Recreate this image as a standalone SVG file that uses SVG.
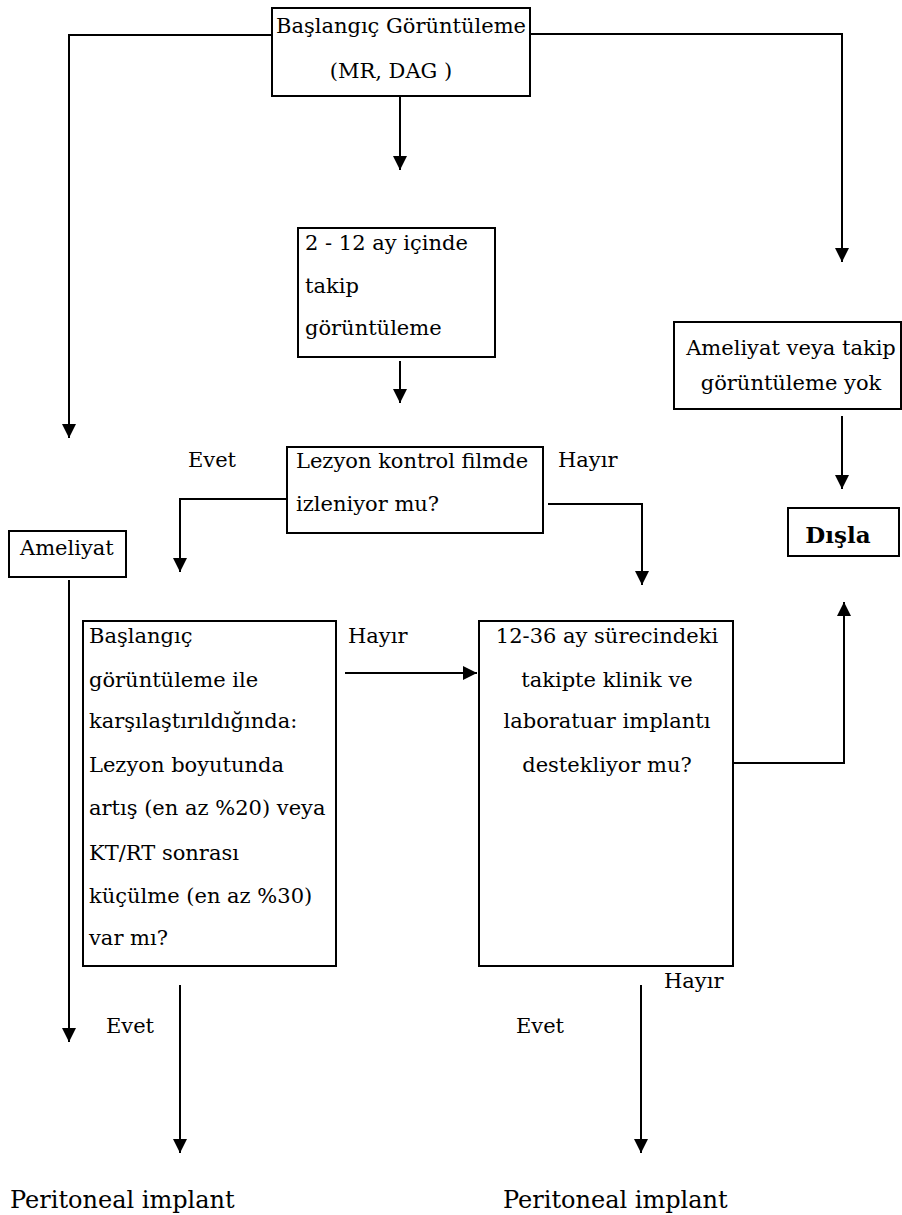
<svg xmlns="http://www.w3.org/2000/svg" width="902" height="1215" viewBox="0 0 902 1215">
<style>
text{font-family:"DejaVu Serif","Liberation Serif",serif;font-size:21px;fill:#000}
.c{text-anchor:middle}
.big{font-size:24px}
.b{font-weight:bold;font-size:23px}
.box{fill:#fff;stroke:#000;stroke-width:2}
.ln{fill:none;stroke:#000;stroke-width:2}
</style>
<defs>
<marker id="ah" markerUnits="userSpaceOnUse" markerWidth="14" markerHeight="16" viewBox="0 0 14 16" refX="14" refY="7" orient="auto">
<path d="M0,0 L14,7 L0,14 Z" fill="#000"/>
</marker>
</defs>
<g id="connectors">
<polyline class="ln" points="272,35 69,35 69,438" marker-end="url(#ah)"/>
<polyline class="ln" points="530,34 842,34 842,262" marker-end="url(#ah)"/>
<line class="ln" x1="400" y1="97" x2="400" y2="170" marker-end="url(#ah)"/>
<line class="ln" x1="400" y1="361" x2="400" y2="403" marker-end="url(#ah)"/>
<line class="ln" x1="842" y1="416" x2="842" y2="489" marker-end="url(#ah)"/>
<polyline class="ln" points="287,499 180,499 180,572" marker-end="url(#ah)"/>
<polyline class="ln" points="548,504 642,504 642,585" marker-end="url(#ah)"/>
<line class="ln" x1="69" y1="580" x2="69" y2="1042" marker-end="url(#ah)"/>
<line class="ln" x1="345" y1="673" x2="477" y2="673" marker-end="url(#ah)"/>
<polyline class="ln" points="733,763 844,763 844,602" marker-end="url(#ah)"/>
<line class="ln" x1="180" y1="985" x2="180" y2="1153" marker-end="url(#ah)"/>
<line class="ln" x1="641" y1="985" x2="641" y2="1153" marker-end="url(#ah)"/>
</g>
<g id="baslangic">
<rect class="box" x="272" y="8" width="258" height="88"/>
<text class="c" x="401" y="33">Başlangıç Görüntüleme</text>
<text class="c" x="391" y="78">(MR, DAG )</text>
</g>
<g id="takip">
<rect class="box" x="298" y="228" width="197" height="129"/>
<text x="305" y="250">2 - 12 ay içinde</text>
<text x="305" y="293">takip</text>
<text x="305" y="335">görüntüleme</text>
</g>
<g id="ameliyat-yok">
<rect class="box" x="674" y="322" width="227" height="87"/>
<text class="c" x="791" y="355">Ameliyat veya takip</text>
<text class="c" x="791" y="390">görüntüleme yok</text>
</g>
<g id="lezyon">
<rect class="box" x="287" y="447" width="256" height="86"/>
<text x="296" y="468">Lezyon kontrol filmde</text>
<text x="296" y="511">izleniyor mu?</text>
</g>
<g id="labels">
<text x="188" y="467">Evet</text>
<text x="558" y="467">Hayır</text>
<text x="348" y="643">Hayır</text>
<text x="664" y="988">Hayır</text>
<text x="106" y="1033">Evet</text>
<text x="516" y="1033">Evet</text>
</g>
<g id="ameliyat">
<rect class="box" x="9" y="531" width="117" height="46"/>
<text x="20" y="555">Ameliyat</text>
</g>
<g id="disla">
<rect class="box" x="788" y="508" width="111" height="48"/>
<text class="b c" x="838" y="543">Dışla</text>
</g>
<g id="karsilastirma">
<rect class="box" x="83" y="621" width="253" height="345"/>
<text x="89" y="643">Başlangıç</text>
<text x="89" y="687">görüntüleme ile</text>
<text x="89" y="728">karşılaştırıldığında:</text>
<text x="89" y="772">Lezyon boyutunda</text>
<text x="89" y="815">artış (en az %20) veya</text>
<text x="89" y="860">KT/RT sonrası</text>
<text x="89" y="903">küçülme (en az %30)</text>
<text x="89" y="945">var mı?</text>
</g>
<g id="klinik">
<rect class="box" x="479" y="621" width="254" height="345"/>
<text class="c" x="607" y="643">12-36 ay sürecindeki</text>
<text class="c" x="607" y="687">takipte klinik ve</text>
<text class="c" x="607" y="728">laboratuar implantı</text>
<text class="c" x="607" y="772">destekliyor mu?</text>
</g>
<g id="peritoneal-1">
<text class="big" x="10" y="1208">Peritoneal implant</text>
</g>
<g id="peritoneal-2">
<text class="big" x="503" y="1208">Peritoneal implant</text>
</g>
</svg>
